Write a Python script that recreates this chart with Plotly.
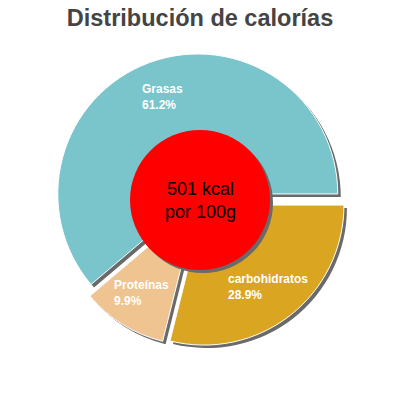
import numpy as np
import plotly.graph_objects as go

labels = ["Grasas", "Proteínas", "carbohidratos"]
percent = [61.2, 9.9, 28.9]
colors = ["#7ac4cc", "#efc490", "#daa520"]
kcal_text = "501 kcal<br>por 100g"
title = "Distribución de calorías"

W = H = 400
OFF = 8          # page body margin pushes the figure down-right
CX = CY = 200 - OFF   # pie centre in figure px (from top-left)
R = 140          # outer radius in px
R_HOLE = 70      # red disc radius
PULL = 0.046     # every slice is pulled a little
SHADOW = 3       # shadow offset in px

half = R * (1 + PULL)
# first slice should start at 3 o'clock and run counterclockwise;
# plotly anchors the far edge of the first slice at `rotation` in that mode
rot = 90 - percent[0] / sum(percent) * 360


def px(x):
    return x / W


def py(y):
    return 1 - y / H


def domain(dx=0, dy=0):
    return dict(x=[px(CX - half + dx), px(CX + half + dx)],
                y=[py(CY + half + dy), py(CY - half + dy)])


fig = go.Figure()

# grey copy of the pie behind, shifted down-right, acts as a drop shadow
fig.add_trace(go.Pie(
    labels=labels, values=percent, sort=False,
    direction="counterclockwise", rotation=rot,
    pull=[PULL] * len(percent),
    marker=dict(colors=["#6a6a6a"] * len(percent), line=dict(width=0)),
    textinfo="none", hoverinfo="skip", showlegend=False,
    domain=domain(SHADOW, SHADOW)))

fig.add_trace(go.Pie(
    labels=labels, values=percent, sort=False,
    direction="counterclockwise", rotation=rot,
    pull=[PULL] * len(percent),
    marker=dict(colors=colors, line=dict(color="white", width=1)),
    textinfo="none", showlegend=False,
    domain=domain()))

# slice labels at the middle angle of each slice
ends = np.cumsum(percent) / sum(percent) * 360
mids = ends - np.array(percent) / sum(percent) * 180
for lab, p, a in zip(labels, percent, mids):
    r_lab = 110
    fig.add_annotation(
        x=px(CX + r_lab * np.cos(np.radians(a))),
        y=py(CY - r_lab * np.sin(np.radians(a))),
        xref="paper", yref="paper", xanchor="center", yanchor="middle",
        align="left", showarrow=False,
        text=f"{lab}<br>{p}%",
        font=dict(family="Liberation Sans", size=12, color="white", weight="bold"))

# red centre disc with its shadow
fig.add_shape(type="circle", xref="paper", yref="paper",
              x0=px(CX - R_HOLE + SHADOW), x1=px(CX + R_HOLE + SHADOW),
              y0=py(CY + R_HOLE + SHADOW), y1=py(CY - R_HOLE + SHADOW),
              fillcolor="#6a6a6a", line_width=0)
fig.add_shape(type="circle", xref="paper", yref="paper",
              x0=px(CX - R_HOLE), x1=px(CX + R_HOLE),
              y0=py(CY + R_HOLE), y1=py(CY - R_HOLE),
              fillcolor="red", line_width=0)

fig.add_annotation(
    x=px(CX), y=py(CY), xref="paper", yref="paper", showarrow=False,
    text=kcal_text, align="center",
    font=dict(family="Liberation Sans", size=18, color="black"))

fig.update_layout(
    title=dict(text=title, x=px(200 - OFF), xanchor="center",
               y=py(1.5), yanchor="top",
               font=dict(family="Liberation Sans", size=23.5, color="#444444", weight="bold")),
    width=W, height=H,
    margin=dict(l=0, r=0, t=0, b=0),
    paper_bgcolor="white", plot_bgcolor="white",
)

fig.write_html("out.html")
